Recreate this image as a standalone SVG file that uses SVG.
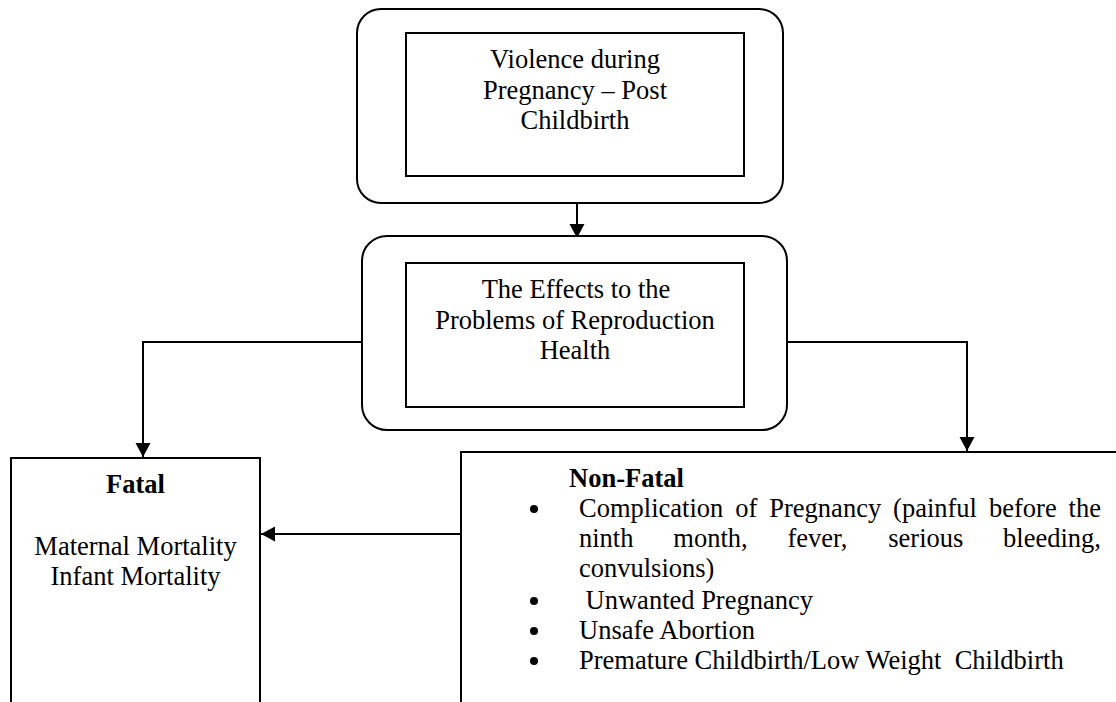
<svg xmlns="http://www.w3.org/2000/svg" width="1116" height="702" viewBox="0 0 1116 702">
<style>
.box{fill:#fff;stroke:#000;stroke-width:2}
.conn{fill:none;stroke:#000;stroke-width:2}
.t{font-family:"Liberation Serif","Times New Roman",serif;font-size:26.5px;fill:#000}
.c{text-anchor:middle}
.b{font-weight:bold}
.dot{fill:#000}
</style>
<defs>
<marker id="arr" markerUnits="userSpaceOnUse" markerWidth="15" markerHeight="16" refX="14" refY="8" orient="auto">
<path d="M0,0.5 L14,8 L0,15.5 z" fill="#000"/>
</marker>
</defs>
<rect width="1116" height="702" fill="#fff"/>
<g id="connectors">
<line class="conn" x1="577" y1="203" x2="577" y2="238" marker-end="url(#arr)"/>
<polyline class="conn" points="362,342 143,342 143,457" marker-end="url(#arr)"/>
<polyline class="conn" points="783,342 967,342 967,451" marker-end="url(#arr)"/>
<line class="conn" x1="461" y1="534" x2="261" y2="534" marker-end="url(#arr)"/>
</g>
<g id="violence">
<rect class="box" x="357" y="9" width="426" height="194" rx="24"/>
<rect class="box" x="406" y="33" width="338" height="143"/>
<text class="t c" x="575" y="68">Violence during</text>
<text class="t c" x="575" y="98.5">Pregnancy – Post</text>
<text class="t c" x="575" y="129">Childbirth</text>
</g>
<g id="effects">
<rect class="box" x="362" y="236" width="425" height="194" rx="25"/>
<rect class="box" x="406" y="263" width="338" height="144"/>
<text class="t c" x="576" y="298">The Effects to the</text>
<text class="t c" x="575" y="329">Problems of Reproduction</text>
<text class="t c" x="575" y="359">Health</text>
</g>
<g id="fatal">
<rect class="box" x="11" y="458" width="249" height="260"/>
<text class="t c b" x="135.5" y="493">Fatal</text>
<text class="t c" x="135.5" y="555">Maternal Mortality</text>
<text class="t c" x="135.5" y="585">Infant Mortality</text>
</g>
<g id="nonfatal">
<rect class="box" x="461" y="452" width="670" height="270"/>
<text class="t b" x="569" y="487">Non-Fatal</text>
<circle class="dot" cx="534" cy="509" r="4"/>
<text class="t" y="517"><tspan x="579">Complication</tspan><tspan x="735.3">of</tspan><tspan x="769.3">Pregnancy</tspan><tspan x="893.1">(painful</tspan><tspan x="989">before</tspan><tspan x="1068.6">the</tspan></text>
<text class="t" y="547"><tspan x="579">ninth</tspan><tspan x="673.3">month,</tspan><tspan x="787.5">fever,</tspan><tspan x="888.3">serious</tspan><tspan x="1003.1">bleeding,</tspan></text>
<text class="t" x="579" y="577">convulsions)</text>
<circle class="dot" cx="534" cy="601" r="4"/>
<text class="t" x="585.6" y="609">Unwanted Pregnancy</text>
<circle class="dot" cx="534" cy="631" r="4"/>
<text class="t" x="579" y="639">Unsafe Abortion</text>
<circle class="dot" cx="534" cy="661" r="4"/>
<text class="t" x="579" y="669" xml:space="preserve">Premature Childbirth/Low Weight  Childbirth</text>
</g>
</svg>
